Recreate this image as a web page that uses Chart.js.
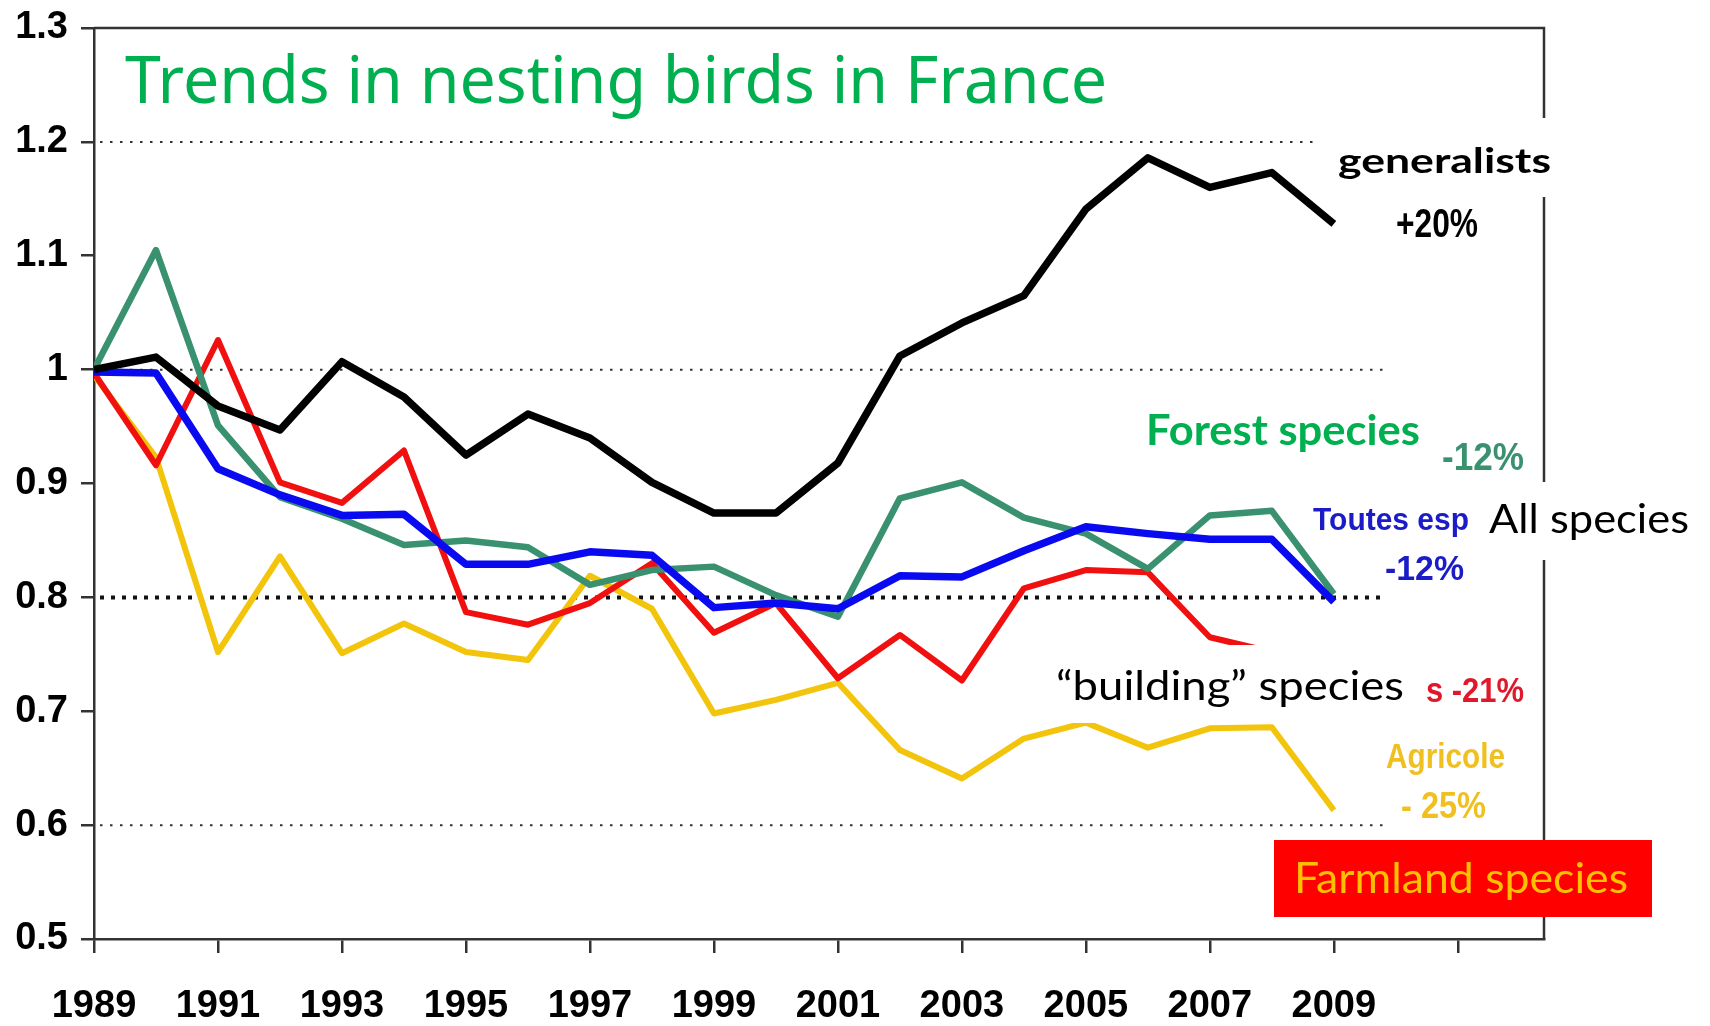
<!DOCTYPE html>
<html>
<head>
<meta charset="utf-8">
<title>Trends in nesting birds in France</title>
<script src="https://cdn.jsdelivr.net/npm/chart.js@4.4.1/dist/chart.umd.min.js"></script>
<style>
  html, body { margin: 0; padding: 0; background: #fff; }
  #wrap { width: 1710px; height: 1026px; }
</style>
</head>
<body>
<div id="wrap"><canvas id="birdsChart" width="1710" height="1026"></canvas></div>
<script>
// index values, 1989 = 1
const years = [1989, 1990, 1991, 1992, 1993, 1994, 1995, 1996, 1997, 1998, 1999,
               2000, 2001, 2002, 2003, 2004, 2005, 2006, 2007, 2008, 2009];
const generalists = [1.000, 1.011, 0.968, 0.947, 1.007, 0.976, 0.925, 0.961, 0.940, 0.901, 0.874,
                     0.874, 0.918, 1.012, 1.041, 1.065, 1.141, 1.186, 1.160, 1.173, 1.128];
const forest = [1.000, 1.105, 0.951, 0.888, 0.869, 0.846, 0.850, 0.844, 0.811, 0.824, 0.827,
                0.802, 0.783, 0.887, 0.901, 0.870, 0.856, 0.825, 0.872, 0.876, 0.803];
const allSpecies = [0.998, 0.997, 0.913, 0.890, 0.872, 0.873, 0.829, 0.829, 0.840, 0.837, 0.791,
                    0.795, 0.790, 0.819, 0.818, 0.841, 0.862, 0.856, 0.851, 0.851, 0.796];
const building = [0.997, 0.916, 1.026, 0.901, 0.883, 0.929, 0.787, 0.776, 0.795, 0.830, 0.769,
                  0.795, 0.729, 0.767, 0.727, 0.808, 0.824, 0.822, 0.765, 0.752, 0.745];
const farmland = [0.995, 0.923, 0.752, 0.836, 0.751, 0.777, 0.752, 0.745, 0.819, 0.790, 0.698,
                  0.710, 0.725, 0.666, 0.641, 0.676, 0.690, 0.668, 0.685, 0.686, 0.613];

const xTickYears = [1989, 1991, 1993, 1995, 1997, 1999, 2001, 2003, 2005, 2007, 2009, 2011];
const xTickLabels = ['1989', '1991', '1993', '1995', '1997', '1999', '2001', '2003', '2005', '2007', '2009', ''];
const yTickValues = [0.5, 0.6, 0.7, 0.8, 0.9, 1.0, 1.1, 1.2, 1.3];
const yTickLabels = ['0.5', '0.6', '0.7', '0.8', '0.9', '1', '1.1', '1.2', '1.3'];
const refLines = [1.2, 1.0, 0.8, 0.6];

const NARROW = '"Liberation Sans", Arial, sans-serif';
const HUMAN = 'Lato, "Open Sans", "Noto Sans", sans-serif';

function points(values) {
    return values.map((v, i) => ({ x: years[i], y: v }));
}

function series(label, values, color, width) {
    return {
        label: label,
        data: points(values),
        borderColor: color,
        borderWidth: width,
        pointRadius: 0,
        tension: 0,
        borderJoinStyle: 'round',
        fill: false
    };
}

// draw text squeezed/stretched to a given width
function fitText(ctx, text, left, baseline, width, font, color) {
    ctx.save();
    ctx.font = font;
    ctx.textAlign = 'left';
    ctx.textBaseline = 'alphabetic';
    const w = ctx.measureText(text).width;
    ctx.translate(left, baseline);
    ctx.scale(width / w, 1);
    ctx.fillStyle = color;
    ctx.fillText(text, 0, 0);
    ctx.restore();
}

const framePlugin = {
    id: 'frame',
    beforeDatasetsDraw(chart) {
        const { ctx, chartArea, scales } = chart;
        const xs = scales.x, ys = scales.y;
        ctx.save();
        // dotted reference lines
        refLines.forEach(v => {
            const y = ys.getPixelForValue(v);
            const bold = v === 0.8;
            ctx.strokeStyle = bold ? '#111' : '#333';
            ctx.lineWidth = bold ? 4 : 2;
            ctx.setLineDash(bold ? [4, 7] : [2.5, 7.5]);
            ctx.beginPath();
            ctx.moveTo(chartArea.left + 6, y);
            ctx.lineTo(xs.getPixelForValue(2009.85), y);
            ctx.stroke();
        });
        ctx.setLineDash([]);
        // top and right frame
        ctx.strokeStyle = '#333';
        ctx.lineWidth = 2.5;
        ctx.beginPath();
        ctx.moveTo(chartArea.left, chartArea.top);
        ctx.lineTo(chartArea.right, chartArea.top);
        ctx.lineTo(chartArea.right, chartArea.bottom);
        ctx.stroke();
        ctx.restore();
    },
    afterDraw(chart) {
        const ctx = chart.ctx;
        ctx.save();
        ctx.fillStyle = '#fff';
        ctx.fillRect(1320, 118, 240, 79);   // generalists
        ctx.fillRect(1478, 482, 222, 78);   // All species
        ctx.fillRect(1031, 645, 395, 78);   // building species
        ctx.fillStyle = '#ff0000';
        ctx.fillRect(1274, 840, 378, 77);   // Farmland species
        ctx.restore();

        fitText(ctx, 'Trends in nesting birds in France', 125, 103, 982, '66px "Noto Sans", sans-serif', '#00b050');

        fitText(ctx, 'generalists', 1338, 173, 213, 'bold 35px ' + HUMAN, '#000');
        fitText(ctx, '+20%', 1396, 237, 82, 'bold 40px ' + NARROW, '#000');
        fitText(ctx, 'Forest species', 1146, 445, 274, 'bold 42px ' + HUMAN, '#00b050');
        fitText(ctx, '-12%', 1442, 470, 82, 'bold 39px ' + NARROW, '#3a9170');
        fitText(ctx, 'Toutes esp', 1313, 530, 156, 'bold 32px ' + NARROW, '#1b1bc8');
        fitText(ctx, 'All species', 1489, 533, 200, '40px ' + HUMAN, '#000');
        fitText(ctx, '-12%', 1385, 580, 79, 'bold 35px ' + NARROW, '#1b1bc8');
        fitText(ctx, '\u201cbuilding\u201d species', 1056, 700, 348, '40px ' + HUMAN, '#000');
        fitText(ctx, 's -21%', 1426, 702, 98, 'bold 35px ' + NARROW, '#e0182c');
        fitText(ctx, 'Agricole', 1386, 768, 119, 'bold 35px ' + NARROW, '#f0c020');
        fitText(ctx, '- 25%', 1401, 818, 85, 'bold 36px ' + NARROW, '#f0c020');
        fitText(ctx, 'Farmland species', 1294, 893, 334, '42px ' + HUMAN, '#ffc000');
    }
};

const tickFont = { family: NARROW, size: 38, weight: 'bold' };

new Chart(document.getElementById('birdsChart').getContext('2d'), {
    type: 'line',
    data: {
        datasets: [
            series('generalists', generalists, '#000000', 7.5),
            series('Toutes esp', allSpecies, '#0a0af0', 7.5),
            series('Forest species', forest, '#3a9170', 6.5),
            series('building species', building, '#f01010', 6),
            series('Agricole', farmland, '#f2c40c', 6)
        ]
    },
    options: {
        responsive: false,
        devicePixelRatio: 1,
        animation: false,
        layout: { padding: { left: 0, top: 28, right: 166, bottom: 0 } },
        plugins: {
            legend: { display: false },
            tooltip: { enabled: false }
        },
        scales: {
            x: {
                type: 'linear',
                min: 1989,
                max: 2012.39,
                afterBuildTicks: s => { s.ticks = xTickYears.map(v => ({ value: v })); },
                afterFit: s => { s.height = 87; s.paddingLeft = 0; s.paddingRight = 0; },
                ticks: {
                    callback: (v, i) => xTickLabels[i],
                    font: tickFont,
                    color: '#000',
                    padding: 31,
                    maxRotation: 0,
                    autoSkip: false
                },
                grid: { drawOnChartArea: false, tickLength: 14, color: '#333', lineWidth: 2.5 },
                border: { color: '#333', width: 2.5 }
            },
            y: {
                min: 0.5,
                max: 1.3,
                afterBuildTicks: s => { s.ticks = yTickValues.map(v => ({ value: v })); },
                afterFit: s => { s.width = 94; s.paddingTop = 0; s.paddingBottom = 0; },
                ticks: {
                    callback: (v, i) => yTickLabels[i],
                    font: tickFont,
                    color: '#000',
                    padding: 13
                },
                grid: { drawOnChartArea: false, tickLength: 13, color: '#333', lineWidth: 2.5 },
                border: { color: '#333', width: 2.5 }
            }
        }
    },
    plugins: [framePlugin]
});
</script>
</body>
</html>
